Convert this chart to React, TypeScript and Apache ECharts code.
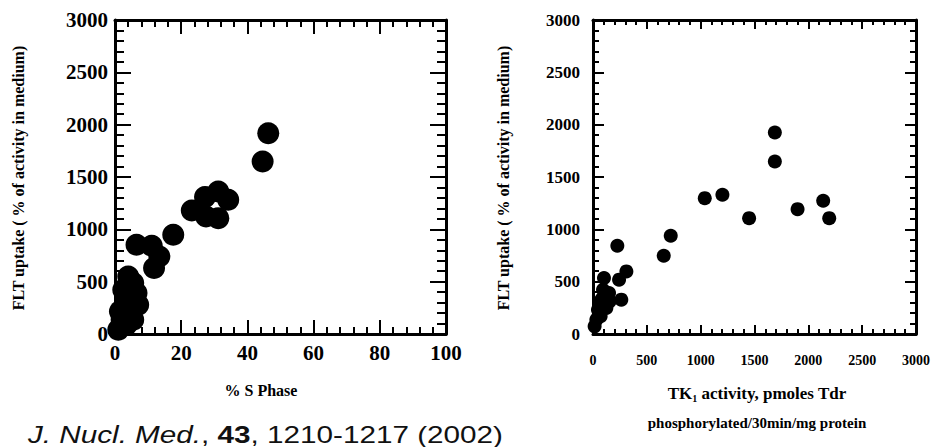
import React, { useEffect, useRef } from "react";
import * as echarts from "echarts";

// Left panel: % S Phase vs FLT uptake
const sPhase = [46.3, 44.6, 31.2, 34.2, 27.2, 23.2, 27.5, 31.2, 17.6, 6.5, 11.1, 13.4, 11.8, 4.0, 6.5, 5.5, 2.5, 7.0, 3.0, 4.5, 2.0, 1.0, 3.5, 5.5, 1.5];
const fltLeft = [1918, 1648, 1362, 1282, 1308, 1180, 1123, 1107, 948, 853, 843, 741, 630, 550, 391, 487, 423, 280, 312, 200, 137, 41, 89, 137, 216];

// Right panel: TK1 activity vs FLT uptake
const tkActivity = [1689, 1689, 1038, 1202, 1450, 1900, 2138, 2194, 722, 657, 226, 310, 242, 102, 263, 149, 77, 93, 46, 124, 31, 71, 15, 155];
const fltRight = [1925, 1648, 1298, 1330, 1107, 1193, 1273, 1107, 939, 748, 843, 598, 519, 535, 328, 391, 328, 423, 232, 248, 137, 169, 73, 312];

const leftXTicks = [0, 20, 40, 60, 80, 100];
const leftYTicks = [0, 500, 1000, 1500, 2000, 2500, 3000];
const rightXTicks = [0, 500, 1000, 1500, 2000, 2500, 3000];
const rightYTicks = [0, 500, 1000, 1500, 2000, 2500, 3000];

const yName = "FLT uptake ( % of activity in medium)";
const leftXName = "% S Phase";
const citation = { journal: "J. Nucl. Med.", volume: "43", pages: ", 1210-1217 (2002)" };

const SERIF = "Liberation Serif";

function makeAxis(
  gridIndex: number,
  ticks: number[],
  position: string,
  showLabel: boolean,
  fontSize: number,
  margin: number,
  major: number,
  minor: number
) {
  return {
    type: "value",
    gridIndex,
    position,
    min: ticks[0],
    max: ticks[ticks.length - 1],
    interval: ticks[1] - ticks[0],
    axisLine: { show: true, onZero: false, lineStyle: { color: "#000", width: 3 } },
    axisTick: { show: true, inside: true, length: major, lineStyle: { color: "#000", width: 2 } },
    minorTick: { show: true, splitNumber: 5, length: minor, lineStyle: { color: "#000", width: 2 } },
    splitLine: { show: false },
    axisLabel: {
      show: showLabel,
      color: "#000",
      fontFamily: SERIF,
      fontWeight: "bold",
      fontSize,
      margin,
      formatter: (v: number) => String(v),
    },
  };
}

export default function App() {
  const ref = useRef<HTMLDivElement>(null);
  useEffect(() => {
    document.body.style.margin = "0";
    if (!ref.current) return;
    const chart = echarts.init(ref.current, undefined, { renderer: "svg" });
    chart.setOption({
      animation: false,
      backgroundColor: "#fff",
      grid: [
        { left: 115, right: 489, top: 20, bottom: 113 },
        { left: 593, right: 19, top: 20, bottom: 113 },
      ],
      xAxis: [
        makeAxis(0, leftXTicks, "bottom", true, 21, 8, 14, 7),
        makeAxis(0, leftXTicks, "top", false, 21, 8, 14, 7),
        makeAxis(1, rightXTicks, "bottom", true, 14, 19, 9, 5),
        makeAxis(1, rightXTicks, "top", false, 14, 19, 9, 5),
      ],
      yAxis: [
        makeAxis(0, leftYTicks, "left", true, 21, 7, 16, 9),
        makeAxis(0, leftYTicks, "right", false, 21, 7, 16, 9),
        makeAxis(1, rightYTicks, "left", true, 17, 13, 11, 6),
        makeAxis(1, rightYTicks, "right", false, 17, 13, 11, 6),
      ],
      series: [
        {
          type: "scatter",
          xAxisIndex: 0,
          yAxisIndex: 0,
          symbolSize: 22,
          itemStyle: { color: "#000", opacity: 1 },
          data: sPhase.map((x, i) => [x, fltLeft[i]]),
        },
        {
          type: "scatter",
          xAxisIndex: 2,
          yAxisIndex: 2,
          symbolSize: 14,
          itemStyle: { color: "#000", opacity: 1 },
          data: tkActivity.map((x, i) => [x, fltRight[i]]),
        },
      ],
      graphic: [
        {
          type: "text",
          x: 18,
          y: 178,
          rotation: Math.PI / 2,
          style: {
            text: yName,
            fill: "#000",
            font: `bold 16px "${SERIF}"`,
            align: "center",
            verticalAlign: "middle",
          },
        },
        {
          type: "text",
          x: 503,
          y: 178,
          rotation: Math.PI / 2,
          style: {
            text: yName,
            fill: "#000",
            font: `bold 16px "${SERIF}"`,
            align: "center",
            verticalAlign: "middle",
          },
        },
        {
          type: "text",
          x: 261,
          y: 390,
          style: {
            text: leftXName,
            fill: "#000",
            font: `bold 16px "${SERIF}"`,
            align: "center",
            verticalAlign: "middle",
          },
        },
        {
          type: "text",
          x: 757,
          y: 393,
          style: {
            text: "{a|TK}{s|1}{a| activity, pmoles Tdr}",
            align: "center",
            verticalAlign: "middle",
            rich: {
              a: { fill: "#000", fontFamily: SERIF, fontWeight: "bold", fontSize: 17, verticalAlign: "middle" },
              s: { fill: "#000", fontFamily: SERIF, fontWeight: "bold", fontSize: 10, padding: [11, 0, 0, 0] },
            },
          },
        },
        {
          type: "text",
          x: 757,
          y: 423,
          style: {
            text: "phosphorylated/30min/mg protein",
            fill: "#000",
            font: `bold 15px "${SERIF}"`,
            align: "center",
            verticalAlign: "middle",
          },
        },
        {
          type: "text",
          x: 28,
          y: 435,
          scaleX: 1.29,
          style: {
            text: `{i|${citation.journal}}{r|, }{b|${citation.volume}}{r|${citation.pages}}`,
            align: "left",
            verticalAlign: "middle",
            rich: {
              i: { fill: "#111", fontFamily: "Liberation Sans", fontStyle: "italic", fontSize: 23, lineHeight: 24 },
              r: { fill: "#111", fontFamily: "Liberation Sans", fontSize: 23, lineHeight: 24 },
              b: { fill: "#111", fontFamily: "Liberation Sans", fontWeight: "bold", fontSize: 23, lineHeight: 24 },
            },
          },
        },
      ],
    });
    return () => chart.dispose();
  }, []);
  return <div ref={ref} style={{ width: 935, height: 447 }} />;
}
